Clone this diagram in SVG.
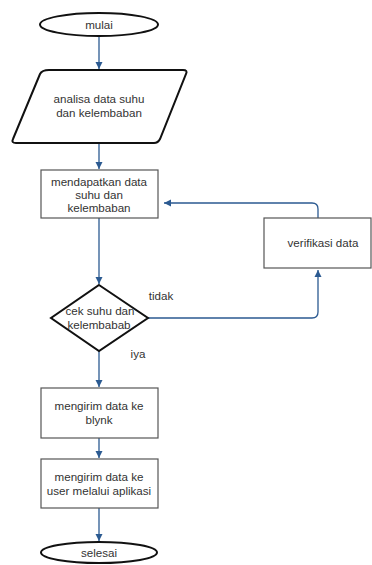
<svg xmlns="http://www.w3.org/2000/svg" width="372" height="565" viewBox="0 0 372 565">
<defs>
<marker id="ah" markerWidth="8" markerHeight="8" refX="7" refY="4" orient="auto" markerUnits="userSpaceOnUse">
<path d="M0,0.5 L7,4 L0,7.5 Z" fill="#2b5a91"/>
</marker>
</defs>
<style>
.t{font-family:"Liberation Sans",Arial,sans-serif;font-size:11.6px;fill:#333;text-anchor:middle}
.term{fill:#fff;stroke:#111;stroke-width:2}
.box{fill:#fff;stroke:#555;stroke-width:1.2}
.dec{fill:#fff;stroke:#111;stroke-width:2}
.c{fill:none;stroke:#2b5a91;stroke-width:1.3;marker-end:url(#ah)}
</style>
<rect width="372" height="565" fill="#fff"/>
<g id="connectors">
<path class="c" d="M99,36 L99,69"/>
<path class="c" d="M99,143 L99,169"/>
<path class="c" d="M99,218 L99,284"/>
<path class="c" d="M99,351 L99,387"/>
<path class="c" d="M99,438 L99,458"/>
<path class="c" d="M99,508 L99,541"/>
<path class="c" d="M318,218 L318,209 Q318,203 312,203 L164,203"/>
<path class="c" d="M148,318 L312,318 Q318,318 318,312 L318,270"/>
</g>
<g id="mulai">
<ellipse class="term" cx="99" cy="24.5" rx="59" ry="11.5"/>
<text class="t" x="99" y="29">mulai</text>
</g>
<g id="analisa">
<path class="dec" d="M49,70 L183,70 Q188,70 186,74 L160,139 Q158,143 154,143 L16,143 Q11,143 13,139 L40,74 Q42,70 49,70 Z"/>
<text class="t" x="99" y="103">analisa data suhu</text>
<text class="t" x="99" y="117">dan kelembaban</text>
</g>
<g id="mendapatkan">
<rect class="box" x="41" y="170" width="117" height="48"/>
<text class="t" x="99" y="186">mendapatkan data</text>
<text class="t" x="99" y="199">suhu dan</text>
<text class="t" x="99" y="212">kelembaban</text>
</g>
<g id="verifikasi">
<rect class="box" x="264" y="218" width="107" height="50"/>
<text class="t" x="323" y="247">verifikasi data</text>
</g>
<g id="cek">
<path class="dec" d="M99,285 L148,318 L99,351 L51,318 Z"/>
<text class="t" x="100" y="315">cek suhu dan</text>
<text class="t" x="99" y="329">kelembabab</text>
</g>
<text class="t" x="161" y="300">tidak</text>
<text class="t" x="138" y="358">iya</text>
<g id="blynk">
<rect class="box" x="41" y="388" width="117" height="50"/>
<text class="t" x="99" y="410">mengirim data ke</text>
<text class="t" x="99" y="424">blynk</text>
</g>
<g id="aplikasi">
<rect class="box" x="41" y="459" width="117" height="49"/>
<text class="t" x="99" y="481">mengirim data ke</text>
<text class="t" x="99" y="494.5">user melalui aplikasi</text>
</g>
<g id="selesai">
<ellipse class="term" cx="99" cy="552.5" rx="58" ry="10.5"/>
<text class="t" x="99" y="557">selesai</text>
</g>
</svg>
